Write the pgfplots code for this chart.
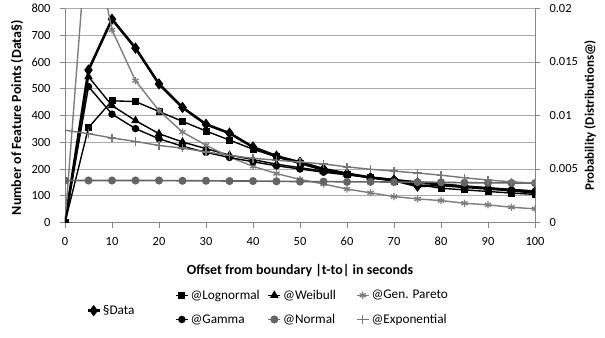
\documentclass[border=0pt]{standalone}
\usepackage{pgfplots}
\pgfplotsset{compat=1.18}
\usepackage{pgfplotstable}
\usepackage{fontspec}
\setmainfont{Carlito}
\definecolor{gridc}{RGB}{170,170,170}
\definecolor{axc}{RGB}{134,134,134}
\definecolor{gpc}{RGB}{125,125,125}
\definecolor{nc}{RGB}{100,100,100}
\definecolor{ec}{RGB}{118,118,118}
\newcommand\tf{\fontsize{12.5}{14}\selectfont}
\newcommand\gf{\fontsize{13.3}{15}\selectfont}
\newcommand\lf{\fontsize{14}{16}\selectfont\bfseries}
\newcommand\rf{\fontsize{13}{15}\selectfont\bfseries}

% Data (left axis, counts)
\pgfplotstableread{
x data
0 0
5 570
10 760
15 652
20 518
25 430
30 367
35 334
40 282
45 248
50 225
55 200
60 183
65 168
70 158
75 136
80 140
85 133
90 127
95 120
100 112
}\datatab

% Distributions (right axis, probability)
\pgfplotstableread{
x logn weib gpar gamm norm expo
0 0 0 0 0 0.003925 0.008625
5 0.008875 0.013625 0.02875 0.0127 0.003925 0.0083
10 0.011375 0.010925 0.018 0.010125 0.003925 0.0079
15 0.0113 0.009525 0.01325 0.008775 0.003925 0.007575
20 0.010375 0.0083 0.01045 0.007825 0.003925 0.0072
25 0.00945 0.007525 0.00845 0.007125 0.0039 0.00695
30 0.00855 0.0069 0.007225 0.00655 0.0039 0.0066
35 0.0077 0.0063 0.006125 0.006075 0.003875 0.006275
40 0.00685 0.005875 0.00525 0.005675 0.003875 0.006
45 0.006125 0.00545 0.004575 0.0053 0.00385 0.005825
50 0.0055 0.005125 0.004025 0.005 0.003825 0.00565
55 0.004875 0.0048 0.0036 0.0047 0.003825 0.005475
60 0.0045 0.004525 0.003125 0.00445 0.0038 0.0052
65 0.0042 0.00425 0.002775 0.0042 0.0038 0.004975
70 0.003875 0.004025 0.002425 0.003975 0.003775 0.0048
75 0.00355 0.0038 0.0022 0.00375 0.003775 0.004625
80 0.0032 0.0036 0.00205 0.00355 0.00375 0.004425
85 0.00305 0.003425 0.0018 0.003375 0.003725 0.004175
90 0.0029 0.00325 0.00165 0.0032 0.0037 0.003975
95 0.00275 0.0031 0.001425 0.00305 0.0037 0.0038
100 0.002625 0.00295 0.001275 0.0029 0.003675 0.003675
}\disttab

\pgfplotsset{
  legend image code/.code={\draw[mark repeat=2,mark phase=2] plot coordinates {(0bp,0bp) (6bp,0bp) (12bp,0bp)};},
  common/.style={
    scale only axis, width=470bp, height=214bp,
    xmin=0, xmax=100,
    clip marker paths=true,
    axis line style={axc, line width=0.75bp},
    tick align=outside, major tick length=5bp,
    tick style={axc, line width=0.75bp},
    ticklabel style={font=\tf, text=black},
    /pgf/number format/assume math mode=true,
    label style={font=\lf},
    legend cell align=left,
  },
}

\begin{document}
\begin{tikzpicture}
\path[use as bounding box] (-65bp,-115.5bp) rectangle (540bp,222.5bp);
\begin{axis}[common,
  ymin=0, ymax=800,
  xtick={0,10,...,100}, ytick={0,100,...,800},
  axis x line*=bottom, axis y line*=left,
  xticklabel style={yshift=-6bp},
  yticklabel style={xshift=-6bp},
  ymajorgrids, grid style={gridc, line width=0.75bp},
  xlabel={Offset from boundary |t-to| in seconds},
  ylabel={Number of Feature Points (Data§)},
  xlabel style={at={(axis description cs:0.5,-0.224)}, anchor=center},
  ylabel style={at={(axis description cs:-0.102,0.49)}, anchor=center},
  legend style={draw=none, fill=none, font=\gf, at={(axis description cs:0.045,-0.412)}, anchor=west, inner sep=0pt},
]
\addplot[black, line width=2.6bp, mark=diamond*, mark size=3.6bp, mark options={solid}] table[x=x, y=data] {\datatab};
\addlegendentry{§Data}
\end{axis}
\begin{axis}[common,
  ymin=0, ymax=0.02,
  scaled y ticks=false,
  axis x line=none, axis y line*=right,
  ytick={0,0.005,0.01,0.015,0.02},
  yticklabels={0,0.005,0.01,0.015,0.02},
  yticklabel style={xshift=6bp},
  ylabel={Probability (Distributions@)},
  ylabel style={at={(axis description cs:1.117,0.5)}, anchor=center, font=\rf},
  legend columns=3,
  legend style={draw=none, fill=none, font=\gf, at={(axis description cs:0.234,-0.305)}, anchor=north west, inner sep=0pt, row sep=9.5bp},
]
\addplot[black, line width=1.4bp, mark=square*, mark size=2.8bp, mark options={solid}] table[x=x, y=logn] {\disttab};
\addlegendentry{\makebox[75bp][l]{@Lognormal}}
\addplot[black, line width=1.4bp, mark=triangle*, mark size=3.6bp, mark options={solid}] table[x=x, y=weib] {\disttab};
\addlegendentry{\makebox[71bp][l]{@Weibull}}
\addplot[gpc, line width=1.4bp, mark=asterisk, mark size=3.6bp, mark options={solid, line width=1.3bp}] table[x=x, y=gpar] {\disttab};
\addlegendentry{@Gen. Pareto}
\addplot[black, line width=1.4bp, mark=*, mark size=3bp, mark options={solid}] table[x=x, y=gamm] {\disttab};
\addlegendentry{\makebox[75bp][l]{@Gamma}}
\addplot[nc, line width=1.6bp, mark=*, mark size=3.2bp, mark options={solid}] table[x=x, y=norm] {\disttab};
\addlegendentry{\makebox[71bp][l]{@Normal}}
\addplot[ec, line width=1.4bp, mark=+, mark size=4.2bp, mark options={solid, line width=1.3bp}] table[x=x, y=expo] {\disttab};
\addlegendentry{@Exponential}
\end{axis}
\end{tikzpicture}
\end{document}
